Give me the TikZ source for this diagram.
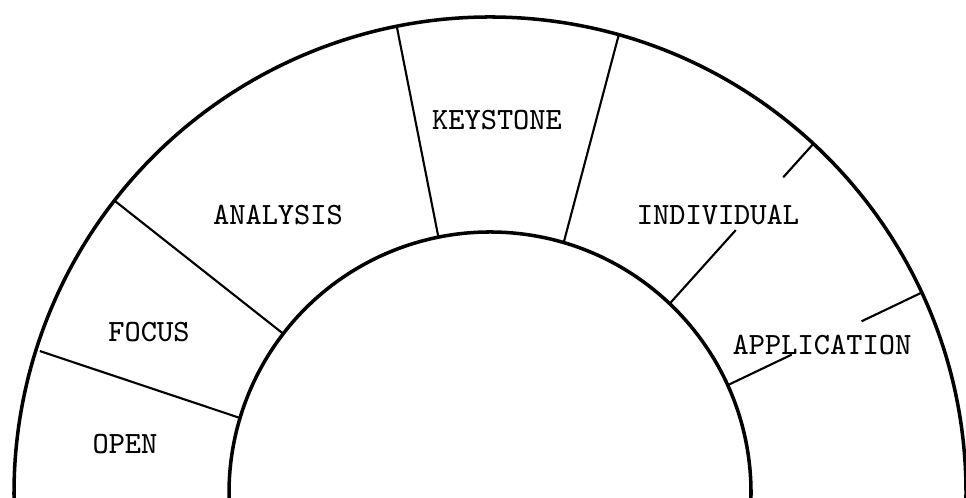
\documentclass[tikz,border=0pt]{standalone}
\usetikzlibrary{calc}
\begin{document}
\begin{tikzpicture}[
  x=0.01cm,y=0.01cm,
  arch/.style={line width=1pt,draw=black},
  joint/.style={line width=.6pt,draw=black},
  word/.style={font=\ttfamily\fontsize{8.8}{10}\selectfont,inner sep=1pt}
]
\useasboundingbox (0,0) rectangle (966,498);
\clip (0,0) rectangle (966,498);
\coordinate (c) at (490,5);
% the two rims
\draw[arch] ($(c)+(-3:476)$) arc[start angle=-3,end angle=183,radius=476];
\draw[arch] ($(c)+(-3:261)$) arc[start angle=-3,end angle=183,radius=261];
% joints between the stones
\coordinate (in1) at ($(c)+(163.3:261)$);
\coordinate (out1) at ($(c)+(162.5:472)$);
\coordinate (in2) at ($(c)+(142.4:261)$);
\coordinate (out2) at ($(c)+(142.1:476)$);
\coordinate (in3) at ($(c)+(101.4:261)$);
\coordinate (out3) at ($(c)+(101.3:476)$);
\coordinate (in4) at ($(c)+(73.6:261)$);
\coordinate (out4) at ($(c)+(74.3:476)$);
\coordinate (in5) at ($(c)+(46.5:261)$);
\coordinate (out5) at ($(c)+(47.2:476)$);
\coordinate (in6) at ($(c)+(24.4:261)$);
\coordinate (out6) at ($(c)+(24.9:476)$);
\draw[joint] (in1)--(out1);
\draw[joint] (in2)--(out2);
\draw[joint] (in3)--(out3);
\draw[joint] (in4)--(out4);
\draw[joint] (in5)--($(in5)!.46!(out5)$);
\draw[joint] ($(in5)!.79!(out5)$)--(out5);
\draw[joint] (in6)--($(in6)!.33!(out6)$);
\draw[joint] ($(in6)!.69!(out6)$)--(out6);
% stone names
\node[word] (open) at (125,54) {OPEN};
\node[word] (focus) at (149,166) {FOCUS};
\node[word] (analysis) at (278,283) {ANALYSIS};
\node[word] (keystone) at (497,378) {KEYSTONE};
\node[word] (individual) at (718,283) {INDIVIDUAL};
\node[word] (application) at (822,153) {APPLICATION};
\end{tikzpicture}
\end{document}
